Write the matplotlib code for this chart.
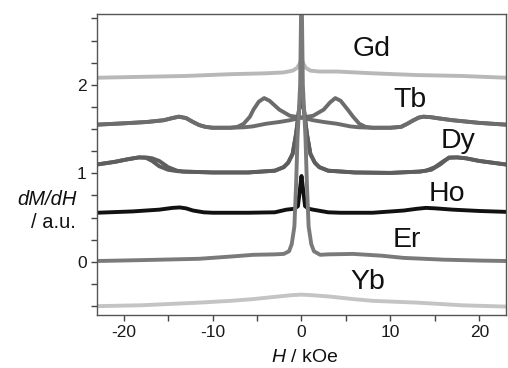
import matplotlib
matplotlib.use("Agg")
import matplotlib.pyplot as plt
from matplotlib.ticker import MultipleLocator

plt.rcParams['font.family'] = ['Liberation Sans', 'DejaVu Sans']
plt.rcParams['mathtext.fontset'] = 'custom'
plt.rcParams['mathtext.it'] = 'Liberation Sans:italic'
plt.rcParams['mathtext.rm'] = 'Liberation Sans'
plt.rcParams['axes.unicode_minus'] = False

# ---- data (H in kOe, dM/dH offset curves) ----
gd_x = [-23, -18, -13, -8, -4, -2, -1, -0.5, -0.2, 0, 0.2, 0.5, 1, 2, 4, 8, 13, 18, 23]
gd_y = [2.08, 2.09, 2.10, 2.12, 2.13, 2.14, 2.16, 2.19, 2.24, 2.30, 2.24, 2.19, 2.16, 2.15, 2.15, 2.13, 2.11, 2.10, 2.08]

tb_a_x = [-23, -20, -17.4, -15.5, -14.5, -13.8, -13.0, -12.2, -11.5, -10.8, -10, -8, -7.2, -6.5, -5.8, -5.4, -4.8,
          -4.2, -3.6, -2.5, -1.3, 0, 1.3, 2.5, 4, 5.5, 6.5, 8, 10, 11.2, 11.9, 12.6, 13.2, 13.7, 14.5, 15.5, 17, 20, 23]
tb_a_y = [1.55, 1.565, 1.58, 1.60, 1.625, 1.64, 1.625, 1.58, 1.545, 1.525, 1.515, 1.515, 1.525, 1.56, 1.64, 1.72, 1.81,
          1.85, 1.82, 1.72, 1.65, 1.63, 1.60, 1.58, 1.56, 1.53, 1.52, 1.515, 1.515, 1.525, 1.56, 1.60, 1.63, 1.64, 1.635,
          1.62, 1.60, 1.57, 1.55]
tb_b_x = [-23, -20, -17.4, -15.5, -14.5, -13.8, -13.0, -12.2, -11.5, -10.8, -10, -8, -6.5, -5.5, -4, -2.5, -1.3, 0,
          1.3, 2.5, 3.2, 3.8, 4.4, 5.2, 5.8, 6.5, 7.2, 8, 10, 11.2, 11.9, 12.6, 13.2, 13.7, 14.5, 15.5, 17, 20, 23]
tb_b_y = [1.55, 1.565, 1.58, 1.60, 1.625, 1.64, 1.625, 1.58, 1.545, 1.525, 1.515, 1.515, 1.52, 1.53, 1.56, 1.58, 1.60,
          1.63, 1.65, 1.72, 1.80, 1.85, 1.82, 1.72, 1.64, 1.56, 1.525, 1.515, 1.515, 1.525, 1.56, 1.60, 1.63, 1.64,
          1.635, 1.62, 1.60, 1.57, 1.55]

dy_a_x = [-23, -21, -19.5, -18.3, -17.5, -16.8, -16, -15, -14, -13.3, -10, -6, -3, -2, -1.5, -1, -0.6, -0.3, 0,
          0.3, 0.6, 1, 1.5, 2, 3, 6, 10, 13.3, 14, 15, 16, 16.6, 17.5, 18.5, 20, 21.5, 23]
dy_a_y = [1.10, 1.13, 1.16, 1.18, 1.175, 1.14, 1.08, 1.04, 1.025, 1.02, 1.01, 1.01, 1.03, 1.07, 1.12, 1.22, 1.45, 1.70,
          1.88, 1.70, 1.45, 1.22, 1.12, 1.07, 1.03, 1.01, 1.005, 1.02, 1.03, 1.07, 1.14, 1.175, 1.18, 1.17, 1.14, 1.12, 1.10]
dy_b_x = [-23, -21, -19.5, -18.3, -17.5, -16.8, -16, -15, -14, -13.3, -10, -6, -3, -2, -1.5, -1, -0.6, -0.3, 0,
          0.3, 0.6, 1, 1.5, 2, 3, 6, 10, 13.3, 14.6, 15.6, 16.6, 17.5, 18.5, 20, 21.5, 23]
dy_b_y = [1.10, 1.13, 1.16, 1.18, 1.18, 1.17, 1.14, 1.07, 1.03, 1.02, 1.01, 1.01, 1.03, 1.07, 1.12, 1.22, 1.45, 1.70,
          1.88, 1.70, 1.45, 1.22, 1.12, 1.07, 1.03, 1.01, 1.005, 1.02, 1.04, 1.10, 1.18, 1.18, 1.17, 1.14, 1.12, 1.10]

ho_x = [-23, -19, -16, -14.5, -13.7, -13, -12.2, -11, -10, -6, -3, -1.7, -0.8, -0.4, -0.2, 0, 0.2, 0.4, 0.8, 1.3,
        3, 4.4, 8, 11.5, 13, 14, 15, 17, 20, 23]
ho_y = [0.555, 0.57, 0.59, 0.61, 0.615, 0.605, 0.58, 0.56, 0.555, 0.555, 0.56, 0.59, 0.60, 0.63, 0.80, 0.97, 0.80,
        0.63, 0.60, 0.59, 0.56, 0.555, 0.555, 0.58, 0.60, 0.61, 0.605, 0.59, 0.575, 0.565]

er_x = [-23, -18, -11.5, -8, -5.4, -3, -2, -1.4, -1.1, -0.8, -0.6, -0.45, -0.3, -0.15, -0.05, 0,
        0.05, 0.15, 0.3, 0.45, 0.6, 0.8, 1.1, 1.4, 2.1, 3, 5.8, 9, 11.5, 16, 20, 23]
er_y = [0.01, 0.02, 0.035, 0.06, 0.08, 0.085, 0.09, 0.12, 0.2, 0.4, 0.9, 1.4, 1.7, 2.0, 2.8, 3.2,
        2.8, 2.0, 1.7, 1.4, 0.9, 0.4, 0.2, 0.12, 0.08, 0.085, 0.09, 0.07, 0.045, 0.025, 0.015, 0.01]

yb_x = [-23, -18, -11.5, -8, -5.4, -3, -1, 0, 1, 3, 5.8, 8, 13, 18, 23]
yb_y = [-0.50, -0.49, -0.46, -0.44, -0.42, -0.395, -0.375, -0.37, -0.375, -0.39, -0.42, -0.44, -0.46, -0.49, -0.505]

labels = ["Gd", "Tb", "Dy", "Ho", "Er", "Yb"]
label_x = [5.8, 10.3, 15.6, 14.3, 10.3, 5.5]
label_y = [2.32, 1.75, 1.29, 0.69, 0.17, -0.305]

x_ticks = [-20, -10, 0, 10, 20]
y_ticks = [0, 1, 2]

# ---- figure ----
fig = plt.figure(figsize=(5.08, 3.68), dpi=100)
ax = fig.add_axes([0.191, 0.144, 0.805, 0.818])

lw = 2.8
ax.plot(gd_x, gd_y, color='#b8b8b8', lw=lw)
ax.plot(tb_a_x, tb_a_y, color='#6c6c6c', lw=lw)
ax.plot(tb_b_x, tb_b_y, color='#6c6c6c', lw=lw)
ax.plot(dy_a_x, dy_a_y, color='#5e5e5e', lw=lw)
ax.plot(dy_b_x, dy_b_y, color='#5e5e5e', lw=lw)
ax.plot(ho_x, ho_y, color='#111111', lw=lw)
ax.plot(er_x, er_y, color='#7a7a7a', lw=lw)
ax.plot(yb_x, yb_y, color='#c4c4c4', lw=lw)

for t, tx, ty in zip(labels, label_x, label_y):
    ax.text(tx, ty, t, fontsize=20.5, ha='left', va='baseline', color='#111111')

ax.set_xlim(-23, 23)
ax.set_ylim(-0.6, 2.8)
ax.set_xticks(x_ticks)
ax.set_yticks(y_ticks)
ax.xaxis.set_minor_locator(MultipleLocator(5))
ax.yaxis.set_minor_locator(MultipleLocator(0.25))
ax.tick_params(which='both', direction='out', length=4, width=1, color='#444444',
               labelsize=12.5, labelcolor='#1a1a1a', top=False, right=False)
for s in ax.spines.values():
    s.set_color('#555555')
    s.set_linewidth(1.0)

fig.text(47 / 508, 1 - 205 / 368, 'dM/dH', fontsize=14.5, style='italic', ha='center', va='baseline', color='#111111')
fig.text(53 / 508, 1 - 228 / 368, '/ a.u.', fontsize=14.5, ha='center', va='baseline', color='#111111')
fig.text(305 / 508, 1 - 362 / 368, r'$H$ / kOe', fontsize=14, ha='center', va='baseline', color='#111111')

fig.savefig('out.png', dpi=100)
